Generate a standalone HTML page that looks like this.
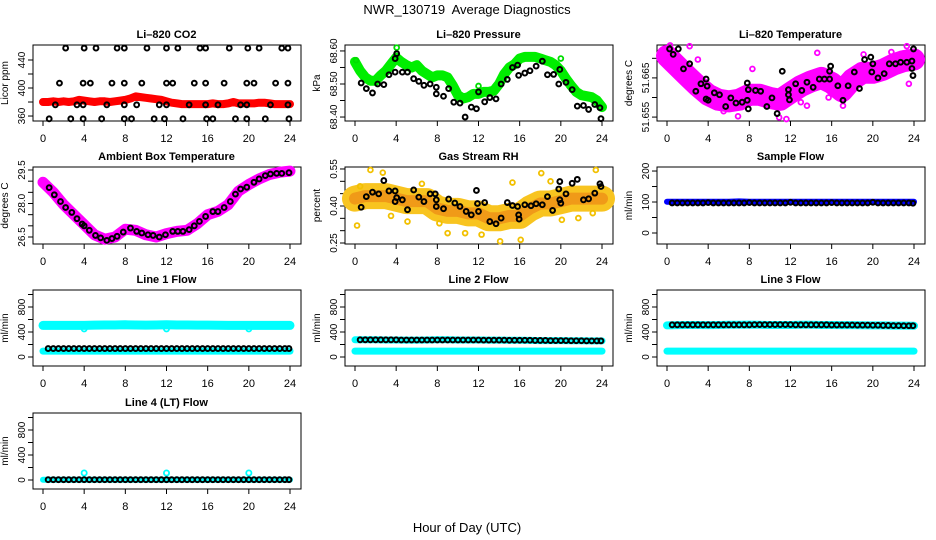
<!DOCTYPE html>
<html><head><meta charset="utf-8"><title>NWR_130719 Average Diagnostics</title>
<style>
html,body{margin:0;padding:0;background:#fff;}
svg{display:block;font-family:"Liberation Sans",Arial,sans-serif;}
</style></head>
<body>
<svg id="chart" width="936" height="540" viewBox="0 0 936 540">
<rect x="0" y="0" width="936" height="540" fill="#fff"/>
<text x="467" y="14" text-anchor="middle" font-size="13">NWR_130719&#160; Average Diagnostics</text>
<text x="467" y="532" text-anchor="middle" font-size="13">Hour of Day (UTC)</text>
</svg>
<script>
// ---------- data ----------
const hourTicks = [0,4,8,12,16,20,24];
const halfHours = [0.5,1,1.5,2,2.5,3,3.5,4,4.5,5,5.5,6,6.5,7,7.5,8,8.5,9,9.5,10,10.5,11,11.5,12,12.5,13,13.5,14,14.5,15,15.5,16,16.5,17,17.5,18,18.5,19,19.5,20,20.5,21,21.5,22,22.5,23,23.5,23.9];
const bandHalf = [0,0.5,1,1.5,2,2.5,3,3.5,4,4.5,5,5.5,6,6.5,7,7.5,8,8.5,9,9.5,10,10.5,11,11.5,12,12.5,13,13.5,14,14.5,15,15.5,16,16.5,17,17.5,18,18.5,19,19.5,20,20.5,21,21.5,22,22.5,23,23.5,24];
const bandHourly = [0,1,2,3,4,5,6,7,8,9,10,11,12,13,14,15,16,17,18,19,20,21,22,23,24];

// CO2
const co2Hours = [2.2,4.0,5.15,7.2,7.9,10.1,12.0,13.1,15.25,15.8,18.1,19.9,21.0,23.2,23.8, 1.6,3.9,4.6,6.7,7.9,9.6,12.0,12.6,14.7,15.8,17.6,19.8,20.5,22.6,23.8, 1.2,3.3,3.9,6.2,7.9,9.1,11.3,12.0,14.2,15.8,17.0,19.2,19.8,22.1,23.8, 0.6,2.7,3.9,5.7,7.9,8.6,10.8,11.8,13.6,15.9,16.5,18.7,19.8,21.6,23.9];
const co2Values = [457,457,457,457,457,457,457,457,457,457,457,457,457,457,457, 407,407,407,407,407,407,407,407,407,407,407,407,407,407,407, 376,376,376,376,376,376,376,376,376,376,376,376,376,376,376, 356,356,356,356,356,356,356,356,356,356,356,356,356,356,356];
const co2Band = [380,380,381,380,381,380,381,383,382,381,380,381,381,380,381,382,383,385,388,387,386,385,384,383,381,379,378,377,377,377,377,377,377,378,377,377,378,380,378,378,378,378,379,379,378,377,377,377,377];

// Pressure
const presHours = [0.6,1.1,1.7,2.2,2.8,3.3,3.9,3.9,4.05,4.6,5.1,5.7,6.2,6.7,7.3,7.9,7.9,8.6,9.1,9.6,10.2,10.7,11.3,11.8,12.0,12.6,13.1,13.7,14.2,14.8,15.3,15.8,15.9,16.5,17.0,17.6,18.2,18.7,19.3,19.8,19.9,20.5,21.1,21.6,22.2,22.7,23.3,23.8,23.9];
const presValues = [68.503,68.486,68.473,68.50,68.498,68.528,68.536,68.577,68.592,68.536,68.536,68.516,68.508,68.496,68.50,68.47,68.49,68.463,68.486,68.445,68.442,68.40,68.43,68.425,68.476,68.446,68.459,68.455,68.50,68.514,68.55,68.557,68.526,68.533,68.54,68.554,68.569,68.528,68.529,68.50,68.544,68.505,68.483,68.433,68.435,68.423,68.438,68.428,68.395];
const presBand = [68.567,68.54,68.52,68.51,68.51,68.526,68.54,68.56,68.58,68.567,68.557,68.55,68.557,68.54,68.53,68.52,68.526,68.526,68.52,68.495,68.466,68.456,68.46,68.47,68.47,68.476,68.476,68.48,68.50,68.53,68.55,68.56,68.577,68.582,68.582,68.582,68.577,68.572,68.567,68.557,68.54,68.516,68.495,68.476,68.466,68.463,68.46,68.45,68.43];
const presOutHours = [0.1,4.05,12.0,20.0];
const presOutValues = [68.572,68.61,68.494,68.577];

// Li-820 temperature
const tempHours = [0.25,0.6,1.1,1.6,2.2,2.8,3.3,3.8,3.9,3.8,4.0,4.6,5.1,5.7,6.2,6.7,7.3,7.8,7.8,7.9,7.9,8.6,9.1,9.7,10.2,10.7,11.2,11.8,11.8,11.9,12.5,13.1,13.6,14.2,14.8,15.3,15.8,15.8,15.9,16.6,17.1,17.6,18.2,18.7,19.2,19.8,19.9,20.0,20.5,21.1,21.6,22.2,22.7,23.3,23.8,23.8,23.9,23.95];
const tempValues = [51.6724,51.671,51.6724,51.6673,51.6686,51.6616,51.6635,51.6647,51.6629,51.6596,51.6593,51.6612,51.6607,51.6577,51.6599,51.6586,51.6588,51.6593,51.6637,51.662,51.6571,51.6618,51.6616,51.6577,51.6599,51.6559,51.6667,51.662,51.6607,51.6594,51.6635,51.6618,51.6639,51.6626,51.6647,51.6647,51.6647,51.6667,51.668,51.663,51.6593,51.663,51.6665,51.6623,51.6697,51.6703,51.6665,51.6686,51.665,51.6661,51.6686,51.6686,51.669,51.669,51.6693,51.6674,51.6656,51.6724];
const tempBand = [51.6706,51.668,51.6654,51.6629,51.6607,51.6594,51.659,51.6594,51.6607,51.6607,51.6599,51.6594,51.6612,51.6629,51.6641,51.665,51.6637,51.6616,51.6646,51.6663,51.6663,51.6671,51.6684,51.6693,51.6697];
const tempOutHours = [0.3,2.2,3.0,14.6,13.6,13.0,6.9,10.9,11.6,23.3,23.5,15.7,17.1,8.3,19.1,21.8,1.0,5.5];
const tempOutValues = [51.6733,51.6731,51.6697,51.6714,51.6579,51.6588,51.6552,51.6549,51.6545,51.6731,51.6635,51.66,51.6579,51.6673,51.671,51.6716,51.6655,51.6565];

// Ambient box temperature
const ambHours = [0.6,1.1,1.7,2.2,2.8,3.3,3.8,4.0,4.5,5.1,5.6,6.2,6.7,7.2,7.8,8.5,9.1,9.6,10.2,10.7,11.3,11.9,12.6,13.1,13.6,14.2,14.7,15.2,15.8,16.5,17.0,17.6,18.2,18.7,19.2,19.8,20.5,21.0,21.6,22.1,22.7,23.2,23.9];
const ambValues = [28.71,28.39,28.09,27.82,27.6,27.32,27.08,27.0,26.8,26.57,26.46,26.35,26.43,26.53,26.72,26.9,26.75,26.68,26.6,26.57,26.5,26.6,26.75,26.75,26.75,26.83,27.0,27.2,27.42,27.64,27.64,27.82,28.09,28.42,28.65,28.73,28.95,29.1,29.25,29.32,29.35,29.35,29.38];
const ambBand = [28.95,28.5,27.95,27.5,27.05,26.6,26.4,26.5,26.85,26.8,26.6,26.5,26.65,26.75,26.8,27.1,27.5,27.65,27.95,28.55,28.85,29.1,29.3,29.4,29.45];

// Gas stream RH
const rhHours = [0.6,1.1,1.7,2.3,2.8,3.3,3.9,3.9,4.05,4.6,5.1,5.7,6.2,6.7,7.3,7.8,7.9,7.9,8.6,9.1,9.7,10.2,10.8,11.3,11.8,11.9,12.0,12.6,13.1,13.7,14.2,14.8,15.3,15.8,15.9,15.95,16.5,17.1,17.6,18.2,18.7,19.2,19.8,19.9,19.9,20.0,20.5,21.1,21.6,22.2,22.7,23.3,23.8,23.9];
const rhValues = [0.395,0.438,0.456,0.449,0.503,0.461,0.461,0.418,0.434,0.425,0.385,0.465,0.436,0.418,0.449,0.449,0.398,0.425,0.389,0.428,0.412,0.398,0.378,0.364,0.463,0.41,0.378,0.414,0.337,0.328,0.351,0.414,0.402,0.398,0.364,0.347,0.405,0.401,0.409,0.405,0.438,0.382,0.469,0.499,0.425,0.411,0.449,0.492,0.508,0.425,0.429,0.452,0.49,0.479];
const rhBand = [0.43,0.44,0.44,0.44,0.43,0.42,0.42,0.42,0.39,0.38,0.38,0.37,0.37,0.35,0.35,0.36,0.36,0.39,0.41,0.41,0.42,0.43,0.43,0.43,0.43];
const rhOutHours = [0.2,1.5,2.7,5.1,9.0,14.1,16.1,15.3,18.1,23.4,23.1,21.7,20.1,10.7,12.3,0.5,6.5,19.0,3.5,8.2];
const rhOutValues = [0.321,0.546,0.535,0.337,0.29,0.257,0.263,0.495,0.533,0.546,0.371,0.351,0.344,0.29,0.284,0.48,0.49,0.5,0.36,0.33];

// Sample flow
const sampleBand = [101,101,101,101,101,101,101,102,101,101,101,101,101,101,101,101,101,101,101,101,101,101,101,101,101];
const sampleValues = [97,97,97,97,97,97,97,98,97,97,97,97,97,97,97,98,97,97,97,97,97,97,97,99,97,97,97,97,97,97,97,98,97,97,97,97,97,97,97,99,97,97,97,97,97,97,97,96];

// Line flows
const line1Upper = [505,505,505,505,505,510,512,512,515,512,510,512,515,512,512,510,510,508,505,505,505,505,505,505,505];
const line1Lower = [95,95,95,95,95,95,95,95,95,95,95,95,95,95,95,95,95,95,95,95,95,95,95,95,95];
const line1Black = [135,135,135,135,135,135,135,135,135,135,135,135,135,135,135,135,135,135,135,135,135,135,135,135,135,135,135,135,135,135,135,135,135,135,135,135,135,135,135,135,135,135,135,135,135,135,135,135];
const line1OutHours = [4,12,20];
const line1OutValues = [450,450,450];
const line2Upper = [275,275,275,272,272,270,270,272,275,275,272,272,272,270,270,268,268,265,262,262,262,260,260,258,258];
const line2Lower = [95,95,95,95,95,95,95,95,95,95,95,95,95,95,95,95,95,95,95,95,95,95,95,95,95];
const line2Black = [275,275,275,275,275,275,275,275,272,272,272,272,272,272,272,272,272,272,272,272,272,272,272,272,270,270,270,270,270,268,268,268,268,268,265,265,265,262,262,262,262,260,260,260,258,258,258,258];
const line3Upper = [505,510,512,512,510,512,515,515,518,515,512,512,512,515,515,512,512,510,510,508,505,505,502,502,500];
const line3Lower = [95,95,95,95,95,95,95,95,95,95,95,95,95,95,95,95,95,95,95,95,95,95,95,95,95];
const line3Black = [515,515,515,515,515,515,515,515,515,515,515,515,515,515,515,515,518,518,518,518,518,518,518,518,515,515,515,515,515,515,515,512,512,512,512,512,510,510,510,508,508,505,505,502,502,500,500,500];
const line4Band = [5,5,5,5,5,5,5,5,5,5,5,5,5,5,5,5,5,5,5,5,5,5,5,5,5];
const line4Black = [5,5,5,5,5,5,5,5,5,5,5,5,5,5,5,5,5,5,5,5,5,5,5,5,5,5,5,5,5,5,5,5,5,5,5,5,5,5,5,5,5,5,5,5,5,5,5,5];
const line4OutHours = [4,12,20];
const line4OutValues = [112,112,112];

// ---------- layout ----------
const NS = 'http://www.w3.org/2000/svg';
const svg = document.getElementById('chart');
const colX0 = [43,355,667];
const rowTop = [45,167,290,413];
const rowBot = [121,244,366,489];
const plotW = 247;

function mk(tag, attrs, parent){
  const el = document.createElementNS(NS, tag);
  for (const k in attrs) el.setAttribute(k, attrs[k]);
  (parent || svg).appendChild(el);
  return el;
}

function makePanel(name, col, row, title, ylab, ymin, ymax, ticks, labels){
  const g = mk('g', {});
  
  
  const x0 = colX0[col], top = rowTop[row], bot = rowBot[row];
  const P = {g, x0, top, bot,
    xs: h => x0 + h / 24 * plotW,
    ys: v => bot - (v - ymin) / (ymax - ymin) * (bot - top)};
  const box = mk('rect', {x: x0 - 10, y: top, width: plotW + 21, height: bot - top, fill: 'none', stroke: '#000', 'stroke-width': 1}, g);
  
  
  const t = mk('text', {x: x0 + plotW / 2, y: top - 7, 'text-anchor': 'middle', 'font-size': 11, 'font-weight': 'bold'}, g);
  t.textContent = title;
  
  
  const yl = mk('text', {x: 0, y: 0, 'text-anchor': 'middle', 'font-size': 10, transform: 'translate(' + (x0 - 35) + ',' + ((top + bot) / 2) + ') rotate(-90)'}, g);
  yl.textContent = ylab;
  
  
  hourTicks.forEach(h => {
    const tk = mk('line', {x1: P.xs(h), x2: P.xs(h), y1: bot, y2: bot + 5, stroke: '#000'}, g);
    
    
    const lb = mk('text', {x: P.xs(h), y: bot + 21, 'text-anchor': 'middle', 'font-size': 11}, g);
    lb.textContent = String(h);
    
    
  });
  ticks.forEach(v => {
    const y = P.ys(v);
    const tk = mk('line', {x1: x0 - 15, x2: x0 - 10, y1: y, y2: y, stroke: '#000'}, g);
    
    
  });
  labels.forEach(v => {
    const y = P.ys(parseFloat(v));
    const lb = mk('text', {x: 0, y: 0, 'text-anchor': 'middle', 'font-size': 10, transform: 'translate(' + (x0 - 18) + ',' + y + ') rotate(-90)'}, g);
    lb.textContent = v;
    
    
  });
  return P;
}

function band(P, name, hours, values, color, width){
  const pts = hours.map((h, i) => P.xs(h).toFixed(1) + ',' + P.ys(values[i]).toFixed(1)).join(' ');
  const el = mk('polyline', {points: pts, fill: 'none', stroke: color, 'stroke-width': width, 'stroke-linejoin': 'round', 'stroke-linecap': 'round'}, P.g);
  
  
}

function points(P, name, hours, values, color, r, sw){
  hours.forEach((h, i) => {
    const c = mk('circle', {cx: P.xs(h), cy: P.ys(values[i]), r: r, fill: 'none', stroke: color, 'stroke-width': sw}, P.g);
    
    
  });
}

// ---------- panels ----------
const flowTicks = [0,200,400,600,800,1000];
const flowLabels = ['0','400','800'];

let P = makePanel('co2', 0, 0, 'Li\u2013820 CO2', 'Licor ppm', 352.9, 461.4, [360,380,400,420,440], ['360','400','440']);
band(P, 'co2-band', bandHalf, co2Band, '#ff0000', 8);
points(P, 'co2-point', co2Hours, co2Values, '#000', 2.4, 2);

P = makePanel('pressure', 1, 0, 'Li\u2013820 Pressure', 'kPa', 68.388, 68.618, [68.40,68.45,68.50,68.55,68.60], ['68.40','68.50','68.60']);
band(P, 'pressure-band', bandHalf, presBand, '#00ee00', 10);
points(P, 'pressure-outlier', presOutHours, presOutValues, '#00dd00', 2.4, 1.8);
points(P, 'pressure-point', presHours, presValues, '#000', 2.4, 2);

P = makePanel('li820-temp', 2, 0, 'Li\u2013820 Temperature', 'degrees C', 51.654, 51.6734, [51.655,51.660,51.665,51.670], ['51.655','51.665']);
band(P, 'li820-temp-band', bandHourly, tempBand, '#ff00ff', 22);
points(P, 'li820-temp-outlier', tempOutHours, tempOutValues, '#ff00ff', 2.4, 1.8);
points(P, 'li820-temp-point', tempHours, tempValues, '#000', 2.4, 2);

P = makePanel('ambient-temp', 0, 1, 'Ambient Box Temperature', 'degrees C', 26.186, 29.635, [26.5,27.0,27.5,28.0,28.5,29.0,29.5], ['26.5','28.0','29.5']);
band(P, 'ambient-temp-band', bandHourly, ambBand, '#ff00ff', 11);
points(P, 'ambient-temp-point', ambHours, ambValues, '#000', 2.4, 2);

P = makePanel('gas-rh', 1, 1, 'Gas Stream RH', 'percent', 0.246, 0.558, [0.25,0.30,0.35,0.40,0.45,0.50,0.55], ['0.25','0.40','0.55']);
band(P, 'gas-rh-band', bandHourly, rhBand, '#f8c420', 26);
band(P, 'gas-rh-band-core', bandHourly, rhBand, '#f09a18', 12);
points(P, 'gas-rh-outlier', rhOutHours, rhOutValues, '#f2c000', 2.4, 1.8);
points(P, 'gas-rh-point', rhHours, rhValues, '#000', 2.4, 2);

P = makePanel('sample-flow', 2, 1, 'Sample Flow', 'ml/min', -35.5, 213, [0,50,100,150,200], ['0','100','200']);
band(P, 'sample-flow-band', bandHourly, sampleBand, '#0000ff', 6);
points(P, 'sample-flow-point', halfHours, sampleValues, '#000', 2.4, 2);

P = makePanel('line1-flow', 0, 2, 'Line 1 Flow', 'ml/min', -144, 1072, flowTicks, flowLabels);
band(P, 'line1-flow-upper-band', bandHourly, line1Upper, '#00ffff', 9);
band(P, 'line1-flow-lower-band', bandHourly, line1Lower, '#00ffff', 7);
points(P, 'line1-flow-outlier', line1OutHours, line1OutValues, '#00ffff', 2.6, 1.8);
points(P, 'line1-flow-point', halfHours, line1Black, '#000', 2.4, 2);

P = makePanel('line2-flow', 1, 2, 'Line 2 Flow', 'ml/min', -144, 1072, flowTicks, flowLabels);
band(P, 'line2-flow-upper-band', bandHourly, line2Upper, '#00ffff', 7);
band(P, 'line2-flow-lower-band', bandHourly, line2Lower, '#00ffff', 7);
points(P, 'line2-flow-point', halfHours, line2Black, '#000', 2.4, 2);

P = makePanel('line3-flow', 2, 2, 'Line 3 Flow', 'ml/min', -144, 1072, flowTicks, flowLabels);
band(P, 'line3-flow-upper-band', bandHourly, line3Upper, '#00ffff', 8);
band(P, 'line3-flow-lower-band', bandHourly, line3Lower, '#00ffff', 7);
points(P, 'line3-flow-point', halfHours, line3Black, '#000', 2.4, 2);

P = makePanel('line4-flow', 0, 3, 'Line 4 (LT) Flow', 'ml/min', -144, 1072, flowTicks, flowLabels);
band(P, 'line4-flow-band', bandHourly, line4Band, '#00ffff', 6);
points(P, 'line4-flow-outlier', line4OutHours, line4OutValues, '#00ffff', 2.6, 1.8);
points(P, 'line4-flow-point', halfHours, line4Black, '#000', 2.4, 2);
</script>
</body></html>
